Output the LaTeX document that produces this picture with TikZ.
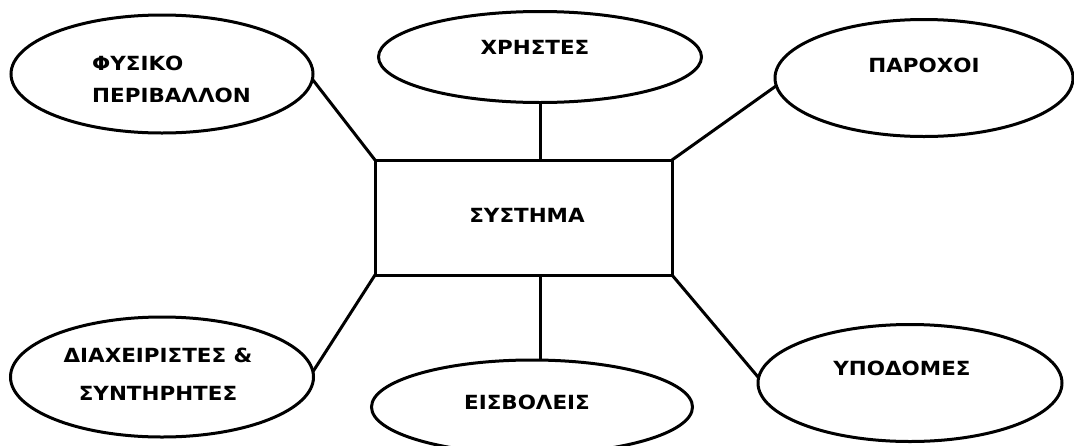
\documentclass[tikz,border=0pt]{standalone}
\usepackage{fontspec}
\setmainfont{DejaVu Sans}
\newfontfamily\lblfamily{DejaVu Sans}[FakeStretch=1.1]
\usetikzlibrary{shapes.geometric}
\begin{document}
\begin{tikzpicture}[x=1pt,y=-1pt,
  link/.style={line width=3pt},
  oval/.style={ellipse,draw,line width=3pt,inner sep=0pt,outer sep=0pt},
  box/.style={rectangle,draw,line width=3pt,inner sep=0pt,outer sep=0pt},
  lbl/.style={font=\lblfamily\fontsize{19.5}{32}\selectfont\bfseries,align=center,inner sep=0pt}]
\clip (0,0) rectangle (1074,445);
\fill[white] (0,0) rectangle (1074,445);

% central system box
\node[box,minimum width=297pt,minimum height=115pt] (sys) at (523.5,217.5) {};
\node[lbl] (tsys) at (527,215) {ΣΥΣΤΗΜΑ};

% surrounding actors
\node[oval,minimum width=302pt,minimum height=118pt] (env) at (162,74) {};
\node[oval,minimum width=323pt,minimum height=91pt] (usr) at (540,57) {};
\node[oval,minimum width=298pt,minimum height=117pt] (prv) at (924,78) {};
\node[oval,minimum width=303pt,minimum height=120pt] (adm) at (162,377) {};
\node[oval,minimum width=321pt,minimum height=94pt] (att) at (532,407) {};
\node[oval,minimum width=304pt,minimum height=117pt] (inf) at (910,383) {};

\node[lbl,align=left,anchor=west] (tenv) at (92,79) {ΦΥΣΙΚΟ\\ΠΕΡΙΒΑΛΛΟΝ};
\node[lbl] (tusr) at (535,47) {ΧΡΗΣΤΕΣ};
\node[lbl] (tprv) at (924,65) {ΠΑΡΟΧΟΙ};
\node[lbl,font=\lblfamily\fontsize{19.5}{38}\selectfont\bfseries] (tadm) at (158,374) {ΔΙΑΧΕΙΡΙΣΤΕΣ \&\\ΣΥΝΤΗΡΗΤΕΣ};
\node[lbl] (tatt) at (527,402) {ΕΙΣΒΟΛΕΙΣ};
\node[lbl] (tinf) at (902,368) {ΥΠΟΔΟΜΕΣ};

% connectors
\draw[link] (env.-2) -- (sys.north west);
\draw[link] (usr.south) -- (usr.south |- sys.north);
\draw[link] (prv.183) -- (sys.north east);
\draw[link] (adm.2) -- (sys.south west);
\draw[link] (att.north -| usr.south) -- (usr.south |- sys.south);
\draw[link] (inf.178) -- (sys.south east);
\end{tikzpicture}
\end{document}
